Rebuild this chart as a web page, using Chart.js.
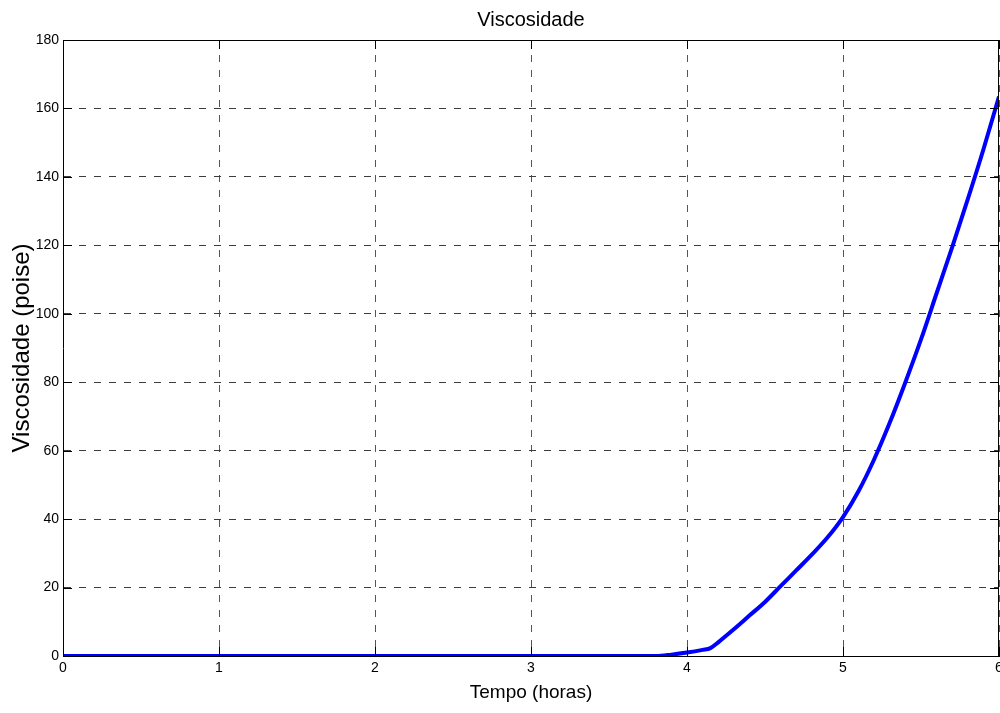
<!DOCTYPE html>
<html lang="pt">
<head>
  <meta charset="UTF-8">
  <title>Viscosidade</title>
  <style>
    html, body { margin: 0; padding: 0; width: 100%; height: 100%; overflow: hidden; background: #fff; }
    #wrap { position: relative; width: 1010px; height: 713px; }
  </style>
  <script src="https://cdn.jsdelivr.net/npm/chart.js@4"></script>
</head>
<body>
  <div id="wrap">
    <canvas id="chart"></canvas>
  </div>

  <script>
    // Values
    var timeHours = [0, 1, 2, 3, 3.8, 3.9, 4.0, 4.1, 4.15, 4.2, 4.3, 4.4, 4.5, 4.6, 4.7, 4.8, 4.9,
                     5.0, 5.1, 5.2, 5.3, 5.4, 5.5, 5.6, 5.7, 5.8, 5.9, 6.0];
    var viscosity = [0, 0, 0, 0, 0, 0.4, 1.0, 1.8, 2.3, 4.0, 7.8, 11.8, 15.8, 20.4, 25, 29.6, 34.6,
                     40.6, 48.2, 57.5, 68.2, 80, 92.5, 106, 119.5, 133.5, 148, 163.5];

    var xTicks = [0, 1, 2, 3, 4, 5, 6];
    var yTicks = [0, 20, 40, 60, 80, 100, 120, 140, 160, 180];

    var FONT = "'Liberation Sans', Arial, Helvetica, sans-serif";
    var TICK_LEN = 9;

    /* Box round the plot plus the small inside ticks */
    var framePlugin = {
      id: "frame",
      afterDraw: function(chart) {
        var ctx = chart.ctx;
        var a = chart.chartArea;
        var xs = chart.scales.x;
        var ys = chart.scales.y;

        ctx.save();
        ctx.strokeStyle = "#000";
        ctx.lineWidth = 1;
        ctx.beginPath();
        ctx.moveTo(a.left, a.top + 0.5);
        ctx.lineTo(a.right, a.top + 0.5);
        ctx.moveTo(a.right - 0.5, a.top);
        ctx.lineTo(a.right - 0.5, a.bottom);

        for (var i = 0; i < xTicks.length; i++) {
          var px = Math.round(xs.getPixelForValue(xTicks[i])) + 0.5;
          ctx.moveTo(px, a.bottom);
          ctx.lineTo(px, a.bottom - TICK_LEN);
          ctx.moveTo(px, a.top);
          ctx.lineTo(px, a.top + TICK_LEN);
        }
        for (var j = 0; j < yTicks.length; j++) {
          var py = Math.round(ys.getPixelForValue(yTicks[j])) + 0.5;
          ctx.moveTo(a.left, py);
          ctx.lineTo(a.left + TICK_LEN, py);
          ctx.moveTo(a.right, py);
          ctx.lineTo(a.right - TICK_LEN, py);
        }
        ctx.stroke();
        ctx.restore();
      }
    };

    var points = [];
    for (var k = 0; k < timeHours.length; k++) {
      points.push({ x: timeHours[k], y: viscosity[k] });
    }

    new Chart(document.getElementById("chart"), {
      type: "line",
      data: {
        datasets: [{
          label: "Viscosidade",
          data: points,
          borderColor: "#0000ff",
          backgroundColor: "#0000ff",
          borderWidth: 4,
          pointRadius: 0,
          cubicInterpolationMode: "monotone",
          fill: false
        }]
      },
      options: {
        responsive: true,
        maintainAspectRatio: false,
        animation: false,
        layout: { padding: { left: 0, right: 11, top: 0, bottom: 0 } },
        plugins: {
          legend: { display: false },
          tooltip: { enabled: false },
          title: {
            display: true,
            text: "Viscosidade",
            fullSize: false,
            color: "#000",
            font: { family: FONT, size: 20, weight: "normal", lineHeight: 1.2 },
            padding: { top: 8, bottom: 8 }
          }
        },
        scales: {
          x: {
            type: "linear",
            min: 0,
            max: 6,
            afterFit: function(scale) {
              scale.height = 57;
              scale.paddingLeft = 0;
              scale.paddingRight = 0;
            },
            afterBuildTicks: function(scale) {
              scale.ticks = xTicks.map(function(v) { return { value: v }; });
            },
            ticks: {
              color: "#000",
              padding: 4,
              maxRotation: 0,
              font: { family: FONT, size: 14 }
            },
            grid: { color: "#555", lineWidth: 1, drawTicks: false },
            border: { display: true, color: "#000", width: 1, dash: [7, 8] },
            title: {
              display: true,
              text: "Tempo (horas)",
              color: "#000",
              font: { family: FONT, size: 19, lineHeight: 1.2 },
              padding: { top: 0, bottom: 9 }
            }
          },
          y: {
            min: 0,
            max: 180,
            afterFit: function(scale) {
              scale.width = 63;
              scale.paddingTop = 0;
              scale.paddingBottom = 0;
            },
            afterBuildTicks: function(scale) {
              scale.ticks = yTicks.map(function(v) { return { value: v }; });
            },
            ticks: {
              color: "#000",
              padding: 4,
              font: { family: FONT, size: 14 }
            },
            grid: { color: "#3c3c3c", lineWidth: 1, drawTicks: false },
            border: { display: true, color: "#000", width: 1, dash: [7, 8] },
            title: {
              display: true,
              text: "Viscosidade (poise)",
              color: "#000",
              font: { family: FONT, size: 24, lineHeight: 1.2 },
              padding: { top: 8, bottom: 0 }
            }
          }
        }
      },
      plugins: [framePlugin]
    });
  </script>
</body>
</html>
